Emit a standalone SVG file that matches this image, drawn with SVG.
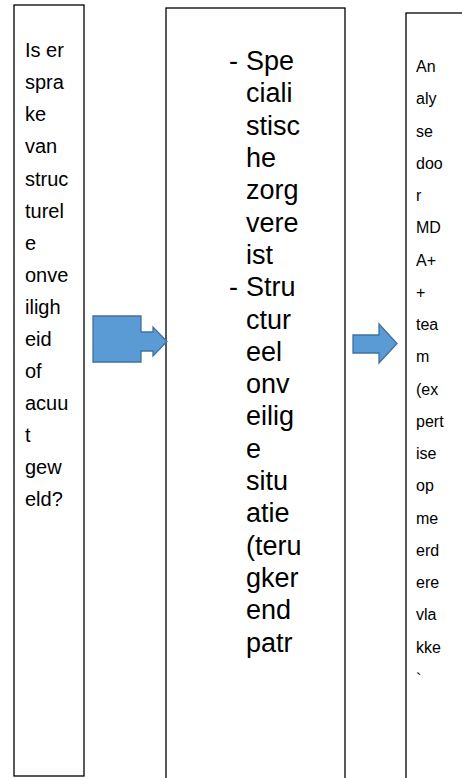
<svg xmlns="http://www.w3.org/2000/svg" width="462" height="778" viewBox="0 0 462 778">
<style>
.box{fill:#fff;stroke:#000;stroke-width:1.3}
.arrow{fill:#5B9BD5;stroke:#41719C;stroke-width:1.3;stroke-linejoin:miter}
.t{font-family:"Liberation Sans",Arial,sans-serif;fill:#000}
.t1{font-size:20px}
.t2{font-size:27px}
.t3{font-size:16px}
</style>
<rect width="462" height="778" fill="#fff"/>
<g id="node1">
<rect class="box" x="14" y="5" width="70" height="771"/>
<text class="t t1">
<tspan x="25" y="57">Is er</tspan>
<tspan x="25" y="89">spra</tspan>
<tspan x="25" y="121">ke</tspan>
<tspan x="25" y="153">van</tspan>
<tspan x="25" y="186">struc</tspan>
<tspan x="25" y="218">turel</tspan>
<tspan x="25" y="250">e</tspan>
<tspan x="25" y="282">onve</tspan>
<tspan x="25" y="314">iligh</tspan>
<tspan x="25" y="346">eid</tspan>
<tspan x="25" y="378">of</tspan>
<tspan x="25" y="410">acuu</tspan>
<tspan x="25" y="442">t</tspan>
<tspan x="25" y="474">gew</tspan>
<tspan x="25" y="506">eld?</tspan>
</text>
</g>
<g id="node2">
<rect class="box" x="166" y="8" width="179" height="775"/>
<text class="t t2">
<tspan x="229" y="70">-</tspan>
<tspan x="229" y="296">-</tspan>
</text>
<text class="t t2">
<tspan x="246" y="70">Spe</tspan>
<tspan x="246" y="102">ciali</tspan>
<tspan x="246" y="135">stisc</tspan>
<tspan x="246" y="167">he</tspan>
<tspan x="246" y="199">zorg</tspan>
<tspan x="246" y="232">vere</tspan>
<tspan x="246" y="264">ist</tspan>
<tspan x="246" y="296">Stru</tspan>
<tspan x="246" y="329">ctur</tspan>
<tspan x="246" y="361">eel</tspan>
<tspan x="246" y="393">onv</tspan>
<tspan x="246" y="425">eilig</tspan>
<tspan x="246" y="458">e</tspan>
<tspan x="246" y="490">situ</tspan>
<tspan x="246" y="522">atie</tspan>
<tspan x="246" y="555">(teru</tspan>
<tspan x="246" y="587">gker</tspan>
<tspan x="246" y="619">end</tspan>
<tspan x="246" y="652">patr</tspan>
</text>
</g>
<g id="node3">
<rect class="box" x="406" y="13" width="70" height="775"/>
<text class="t t3">
<tspan x="416" y="72">An</tspan>
<tspan x="416" y="104">aly</tspan>
<tspan x="416" y="137">se</tspan>
<tspan x="416" y="169">doo</tspan>
<tspan x="416" y="201">r</tspan>
<tspan x="416" y="233">MD</tspan>
<tspan x="416" y="266">A+</tspan>
<tspan x="416" y="298">+</tspan>
<tspan x="416" y="330">tea</tspan>
<tspan x="416" y="362">m</tspan>
<tspan x="416" y="395">(ex</tspan>
<tspan x="416" y="427">pert</tspan>
<tspan x="416" y="459">ise</tspan>
<tspan x="416" y="491">op</tspan>
<tspan x="416" y="524">me</tspan>
<tspan x="416" y="556">erd</tspan>
<tspan x="416" y="588">ere</tspan>
<tspan x="416" y="620">vla</tspan>
<tspan x="416" y="653">kke</tspan>
<tspan x="416" y="685">`</tspan>
</text>
</g>
<g id="connectors">
<path class="arrow" d="M93,316 H141 V332 H153 V327 L167,341.5 L153,356 V351 H141 V362 H93 Z"/>
<path class="arrow" d="M353,335 H379 V324 L397,343.5 L379,363 V353 H353 Z"/>
</g>
</svg>
